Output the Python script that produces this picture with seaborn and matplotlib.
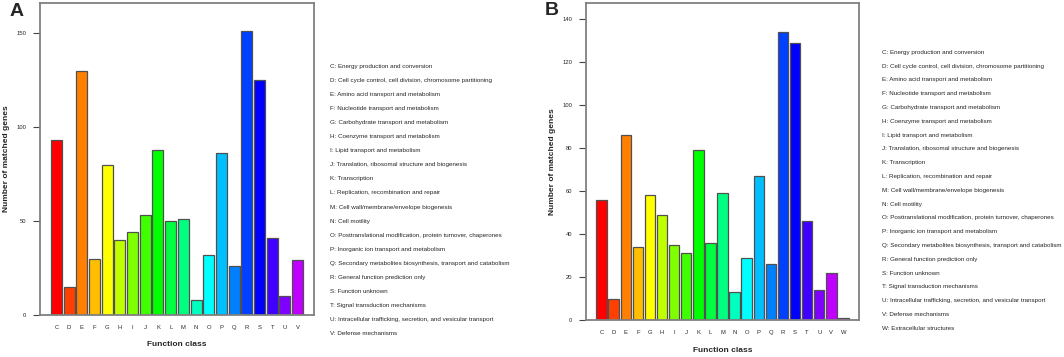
import colorsys
import matplotlib
matplotlib.use("Agg")
import matplotlib.pyplot as plt
import seaborn as sns
import pandas as pd

# COG classes and matched gene counts for the two panels
classes_a = list("CDEFGHIJKLMNOPQRSTUV")
counts_a = [93, 15, 130, 30, 80, 40, 44, 53, 88, 50, 51, 8, 32, 86, 26, 151, 125, 41, 10, 29]

classes_b = list("CDEFGHIJKLMNOPQRSTUVW")
counts_b = [56, 10, 86, 34, 58, 49, 35, 31, 79, 36, 59, 13, 29, 67, 26, 134, 129, 46, 14, 22, 1]

descriptions = {
    "C": "Energy production and conversion",
    "D": "Cell cycle control, cell division, chromosome partitioning",
    "E": "Amino acid transport and metabolism",
    "F": "Nucleotide transport and metabolism",
    "G": "Carbohydrate transport and metabolism",
    "H": "Coenzyme transport and metabolism",
    "I": "Lipid transport and metabolism",
    "J": "Translation, ribosomal structure and biogenesis",
    "K": "Transcription",
    "L": "Replication, recombination and repair",
    "M": "Cell wall/membrane/envelope biogenesis",
    "N": "Cell motility",
    "O": "Posttranslational modification, protein turnover, chaperones",
    "P": "Inorganic ion transport and metabolism",
    "Q": "Secondary metabolites biosynthesis, transport and catabolism",
    "R": "General function prediction only",
    "S": "Function unknown",
    "T": "Signal transduction mechanisms",
    "U": "Intracellular trafficking, secretion, and vesicular transport",
    "V": "Defense mechanisms",
    "W": "Extracellular structures",
}

# rainbow colours, 15 degree hue steps
colors = [colorsys.hsv_to_rgb(i / 24, 1, 1) for i in range(24)]

sns.set_style("white")
plt.rcParams['font.family'] = ['Liberation Sans', 'DejaVu Sans']

W, H = 1064, 357
fig = plt.figure(figsize=(W / 100, H / 100), dpi=100)


def panel(rect, classes, counts, ymax, yticks, letter, letter_xy, legend_x, legend_y0, legend_step,
          xlab_y, ylab_x, xtick_pad):
    ax = fig.add_axes(rect)
    df = pd.DataFrame({"cls": classes, "n": counts})
    sns.barplot(data=df, x="cls", y="n", hue="cls", palette=colors[:len(classes)],
                legend=False, width=0.86, edgecolor="#505050", linewidth=0.9,
                saturation=1, ax=ax)
    n = len(classes)
    ax.set_xlim(-1.29, n - 1 + 1.29)
    ax.set_ylim(0, ymax)
    ax.set_yticks(yticks)
    ax.set_yticklabels([str(t) for t in yticks], fontsize=4.2)
    ax.tick_params(axis="y", length=5, width=0.8, color="#444444", pad=5, direction="out", left=True)
    ax.tick_params(axis="x", length=0, labelsize=4.2, pad=xtick_pad)
    ax.set_xlabel("")
    ax.set_ylabel("")
    for s in ax.spines.values():
        s.set_color("#808080")
        s.set_linewidth(1.3)

    fig.text(rect[0] + rect[2] / 2, 1 - xlab_y / H, "Function class", ha="center", va="center",
             fontsize=6, fontweight="bold")
    fig.text(ylab_x / W, rect[1] + rect[3] / 2, "Number of matched genes", ha="center", va="center",
             rotation=90, fontsize=6, fontweight="bold")
    fig.text(letter_xy[0] / W, 1 - letter_xy[1] / H, letter, ha="left", va="center",
             fontsize=14, fontweight="bold")
    for i, c in enumerate(classes):
        fig.text(legend_x / W, 1 - (legend_y0 + i * legend_step) / H, f"{c}: {descriptions[c]}",
                 ha="left", va="center", fontsize=4.5)
    return ax


panel([40 / W, 1 - 315 / H, 274 / W, 312 / H], classes_a, counts_a, 166, [0, 50, 100, 150],
      "A", (10, 11), 330, 66.7, 14.03, 345, 7, 7)
panel([586 / W, 1 - 320 / H, 273 / W, 317 / H], classes_b, counts_b, 147.5,
      [0, 20, 40, 60, 80, 100, 120, 140],
      "B", (545, 10.5), 882, 52.3, 13.8, 350, 553, 7.5)

fig.savefig("out.png", dpi=100)
